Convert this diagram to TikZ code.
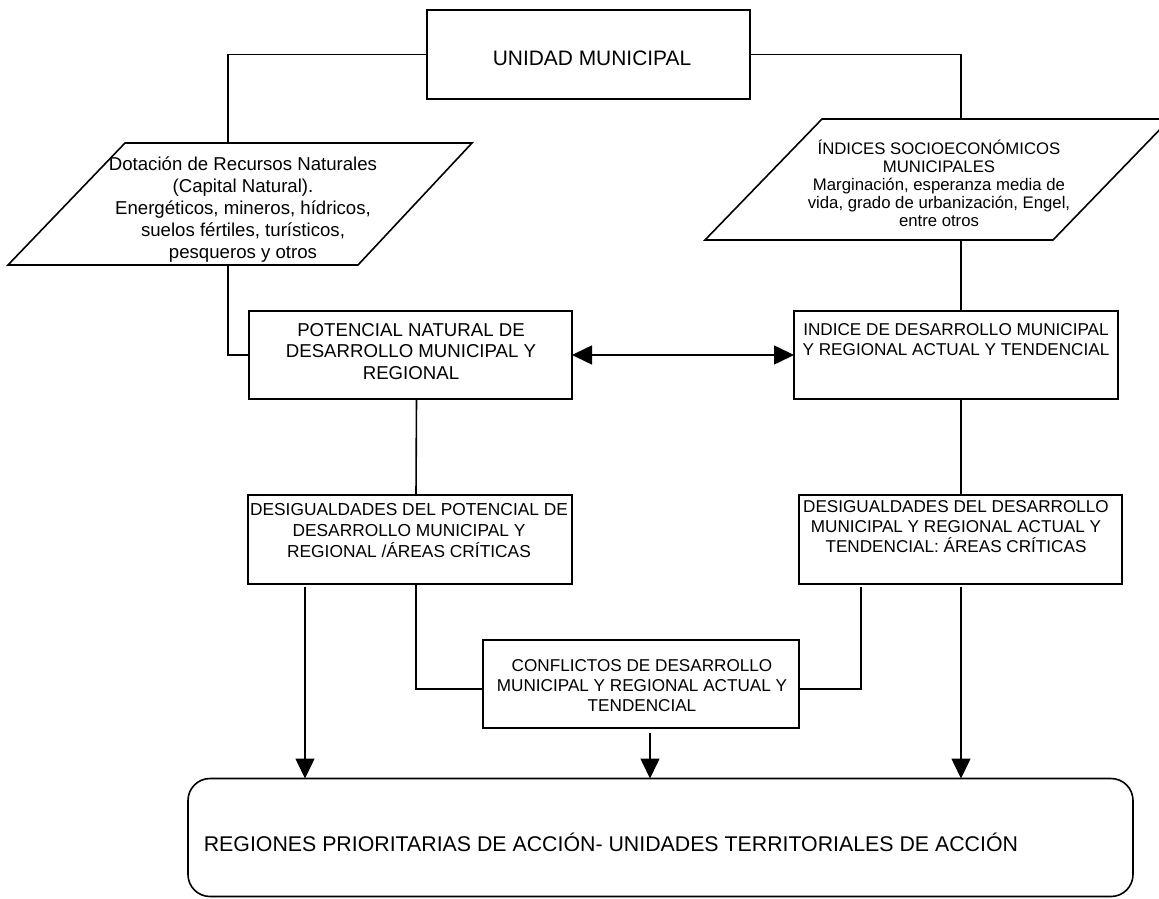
\documentclass[tikz,border=0pt]{standalone}
\usepackage{fontspec}
\setmainfont{Liberation Sans}
\usetikzlibrary{arrows.meta}
\newcommand\firststrut{\rule{0pt}{1em}}
\begin{document}
\begin{tikzpicture}[x=1bp,y=-1bp,
  line width=1.6bp,
  frame/.style={draw, inner sep=0pt, outer sep=0pt},
  txt/.style={inner sep=0pt, align=center, anchor=north},
  small/.style={font=\fontsize{17.2}{20}\selectfont},
  tip/.style={-{Triangle[length=20bp,width=19bp]}},
  bitip/.style={{Triangle[length=20bp,width=19bp]}-{Triangle[length=20bp,width=19bp]}}
]
\useasboundingbox (0,0) rectangle (1159,899);

% ---- boxes ----
\node[frame, minimum width=323bp, minimum height=89bp] (top)  at (588.5,54.5) {};
\node[frame, minimum width=323bp, minimum height=88bp] (pot)  at (410.5,355) {};
\node[frame, minimum width=324bp, minimum height=88bp] (idx)  at (956,355) {};
\node[frame, minimum width=324bp, minimum height=89bp] (desL) at (410,539.5) {};
\node[frame, minimum width=323bp, minimum height=89bp] (desR) at (960.5,539.5) {};
\node[frame, minimum width=316bp, minimum height=88bp] (conf) at (641,684) {};
\node[frame, rounded corners=22bp, minimum width=945bp, minimum height=118bp] (reg) at (660.5,837.5) {};

% ---- parallelograms (data inputs) ----
\draw (125,143) -- (472,143) -- (358,265) -- (8,265) -- cycle;
\draw (822,119) -- (1170,119) -- (1053,240) -- (705,240) -- cycle;
\coordinate (natTop) at (228,143);
\coordinate (natBot) at (228,265);
\coordinate (socTop) at (961,119);
\coordinate (socBot) at (961,240);

% ---- texts ----
\node[anchor=base, inner sep=0pt, font=\fontsize{21}{24}\selectfont] (topT) at (592,65) {UNIDAD MUNICIPAL};
\node[txt, font=\fontsize{18.7}{22}\selectfont] (natT) at (243,151.5)
  {\firststrut Dotación de Recursos Naturales\\(Capital Natural).\\Energéticos, mineros, hídricos,\\suelos fértiles, turísticos,\\pesqueros y otros};
\node[txt, font=\fontsize{16.8}{18.2}\selectfont] (socT) at (939,136.5)
  {\firststrut ÍNDICES SOCIOECONÓMICOS\\MUNICIPALES\\Marginación, esperanza media de\\vida, grado de urbanización, Engel,\\entre otros};
\node[txt, font=\fontsize{18.7}{21.5}\selectfont] (potT) at (411,317)
  {\firststrut POTENCIAL NATURAL DE\\DESARROLLO MUNICIPAL Y\\REGIONAL};
\node[txt, font=\fontsize{17.2}{19.5}\selectfont] (idxT) at (956,318)
  {\firststrut INDICE DE DESARROLLO MUNICIPAL\\Y REGIONAL ACTUAL Y TENDENCIAL};
\node[txt, font=\fontsize{17.4}{21}\selectfont] (desLT) at (409,497.5)
  {\firststrut DESIGUALDADES DEL POTENCIAL DE\\DESARROLLO MUNICIPAL Y\\REGIONAL /ÁREAS CRÍTICAS};
\node[txt, small] (desRT) at (956,495)
  {\firststrut DESIGUALDADES DEL DESARROLLO\\MUNICIPAL Y REGIONAL ACTUAL Y\\TENDENCIAL: ÁREAS CRÍTICAS};
\node[txt, small] (confT) at (642,654)
  {\firststrut CONFLICTOS DE DESARROLLO\\MUNICIPAL Y REGIONAL ACTUAL Y\\TENDENCIAL};
\node[anchor=base west, inner sep=0pt, font=\fontsize{21.4}{24}\selectfont] (regT) at (203,851)
  {REGIONES PRIORITARIAS DE ACCIÓN- UNIDADES TERRITORIALES DE ACCIÓN};

% ---- connectors ----
\draw (top.west) -| (natTop);
\draw (top.east) -| (socTop);
\draw (natBot) |- (pot.west);
\draw (socBot) -- (socBot |- idx.north);
\draw[bitip] (pot.east) -- (idx.west);
\draw (idx.south -| socBot) -- (desR.north -| socBot);
\draw ([xshift=6bp]pot.south) -- ([xshift=6bp]desL.north);
\draw ([xshift=6bp]desL.south) |- ([yshift=-5bp]conf.west);
\coordinate (dR) at ([xshift=-99.5bp,yshift=-3bp]desR.south);
\draw (dR) |- ([yshift=-5bp]conf.east);
\coordinate (aL) at ([xshift=-105bp,yshift=-3bp]desL.south);
\coordinate (aR) at ([xshift=0.5bp,yshift=-3bp]desR.south);
\coordinate (aM) at ([xshift=9bp,yshift=-5bp]conf.south);
\draw[tip] (aL) -- (aL |- reg.north);
\draw[tip] (aM) -- (aM |- reg.north);
\draw[tip] (aR) -- (aR |- reg.north);
\end{tikzpicture}
\end{document}
